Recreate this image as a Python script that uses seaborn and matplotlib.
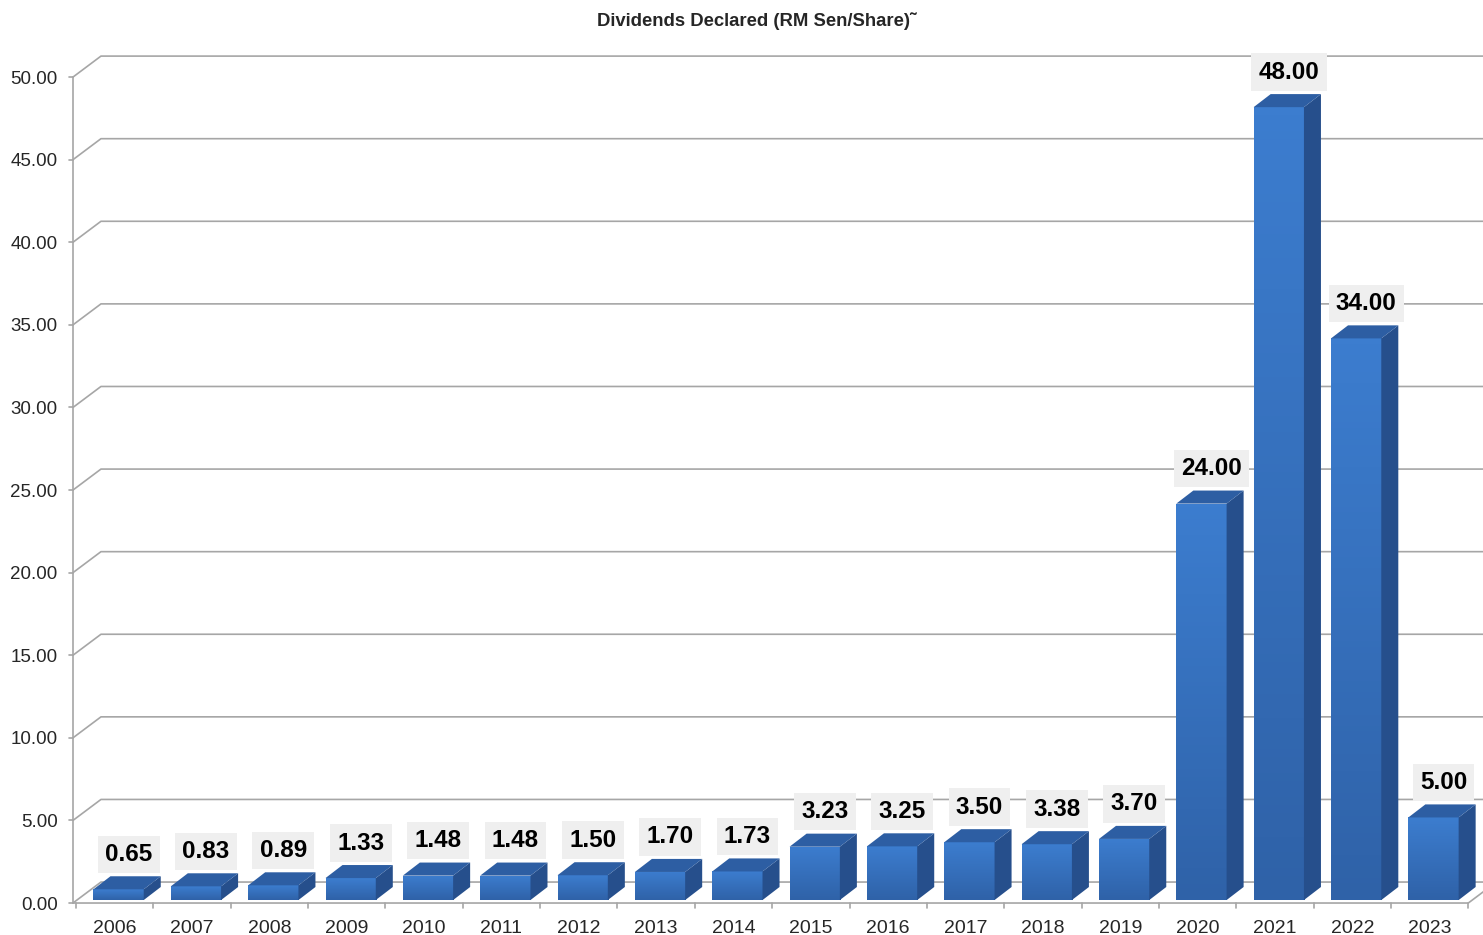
import matplotlib
matplotlib.use('Agg')
import matplotlib.pyplot as plt
import seaborn as sns
import pandas as pd
import numpy as np
from matplotlib.patches import Polygon
from matplotlib.colors import LinearSegmentedColormap

# data
years = ['2006', '2007', '2008', '2009', '2010', '2011', '2012', '2013', '2014',
         '2015', '2016', '2017', '2018', '2019', '2020', '2021', '2022', '2023']
dividends = [0.65, 0.83, 0.89, 1.33, 1.48, 1.48, 1.50, 1.70, 1.73,
             3.23, 3.25, 3.50, 3.38, 3.70, 24.00, 48.00, 34.00, 5.00]
y_ticks = [0, 5, 10, 15, 20, 25, 30, 35, 40, 45, 50]

sns.set_theme(style='white')
plt.rcParams['font.family'] = ['Liberation Sans', 'DejaVu Sans']

df = pd.DataFrame({'year': years, 'value': dividends})

fig = plt.figure(figsize=(14.83, 9.35), dpi=100)
ax = fig.add_axes([0.0492, 0.0342, 0.9508, 0.9187])

x_left, x_right = -0.54, 17.69
ax.set_xlim(x_left, x_right)
ax.set_ylim(0, 52)

grid_col = '#a6a6a6'
wall_dx, wall_dy = 0.362, 1.27   # depth of the back wall
bar_dx, bar_dy = 0.22, 0.79      # depth of each bar
base = 0.18                      # bars stand a little behind the front edge

# gridlines + back wall
for t in y_ticks:
    ax.plot([x_left, x_left + wall_dx, x_right], [t, t + wall_dy, t + wall_dy],
            color=grid_col, lw=1.2, zorder=1, clip_on=False)
# front axis and floor edge
ax.plot([x_left, x_left], [0, 50], color=grid_col, lw=1.2, zorder=1, clip_on=False)
ax.plot([x_left, 17.5, 17.5 + wall_dx], [0, 0, wall_dy], color=grid_col, lw=1.2,
        zorder=1, clip_on=False)

sns.barplot(data=df, x='year', y='value', width=0.65, color='#3570c0',
            saturation=1, ax=ax, zorder=3)

grad = LinearSegmentedColormap.from_list('bar', ['#2f62a8', '#3c7dcf'])
for p, v in zip(ax.patches, dividends):
    p.set_x(p.get_x() + 0.05)
    p.set_y(base)
    x0 = p.get_x()
    x1 = x0 + p.get_width()
    y0, y1 = base, base + v
    p.set_facecolor('none')
    p.set_edgecolor('none')
    # front face gradient
    im = ax.imshow(np.linspace(0, 1, 100).reshape(-1, 1), cmap=grad, origin='lower',
                   extent=[x0, x1, y0, y1], aspect='auto', zorder=3)
    im.set_clip_path(p)
    side = Polygon([(x1, y0), (x1 + bar_dx, y0 + bar_dy), (x1 + bar_dx, y1 + bar_dy), (x1, y1)],
                   closed=True, facecolor='#264f8c', edgecolor='none', zorder=3)
    top = Polygon([(x0, y1), (x0 + bar_dx, y1 + bar_dy), (x1 + bar_dx, y1 + bar_dy), (x1, y1)],
                  closed=True, facecolor='#2d5ea3', edgecolor='none', zorder=3)
    ax.add_patch(side)
    ax.add_patch(top)
    ax.text((x0 + x1) / 2 + 0.13, y1 + bar_dy + 1.33, f'{v:.2f}', ha='center', va='center',
            fontsize=17.5, fontweight='bold', color='black', zorder=5,
            bbox=dict(boxstyle='square,pad=0.3', facecolor='#efefef', edgecolor='none'))
ax.set_xlim(x_left, x_right)
ax.set_ylim(0, 52)

# ticks
for s in ax.spines.values():
    s.set_visible(False)
ax.set_yticks(y_ticks)
ax.set_yticklabels([f'{t:.2f}' for t in y_ticks], fontsize=13.5)
ax.set_xticks(range(len(years)))
ax.set_xticklabels(years, fontsize=14)
ax.tick_params(axis='both', length=0)
ax.tick_params(axis='x', pad=12)
ax.tick_params(axis='y', pad=11)
for b in np.arange(-0.5, len(years), 1.0):
    ax.plot([b, b], [0, -0.3], color=grid_col, lw=1.2, clip_on=False, zorder=1)
for t in y_ticks:
    ax.plot([x_left - 0.05, x_left], [t, t], color=grid_col, lw=1.2, clip_on=False, zorder=1)
ax.set_xlabel('')
ax.set_ylabel('')
ax.grid(False)

fig.text(0.51, 0.977, 'Dividends Declared (RM Sen/Share)\u02dc', ha='center', va='center',
         fontsize=13.3, fontweight='bold')

fig.savefig('out.png', dpi=100)
